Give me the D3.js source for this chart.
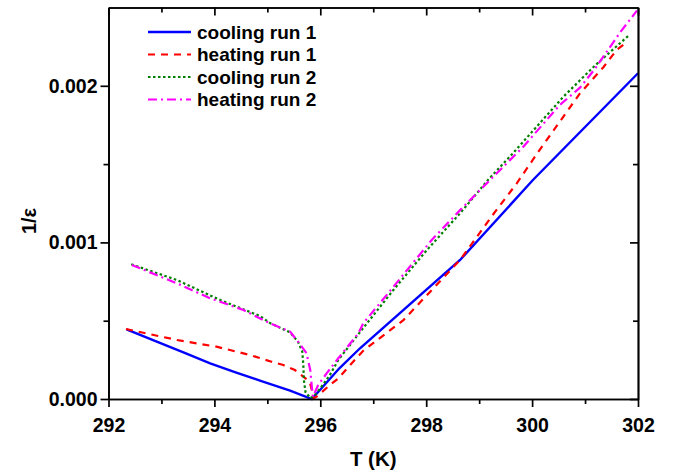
<!DOCTYPE html>
<html>
<head>
<meta charset="utf-8">
<script src="https://cdn.jsdelivr.net/npm/d3@7"></script>
<style>
  body { margin: 0; background: #fff; }
  svg { font-family: "Liberation Sans", Arial, sans-serif; }
</style>
</head>
<body>
<svg id="chart" width="677" height="474"></svg>
<script>
// [T (K), 1/eps]
const cooling1 = [
  [292.34, 0.000445], [292.97, 0.000358], [293.45, 0.000293], [293.92, 0.000228],
  [294.40, 0.000170], [294.86, 0.000118], [295.43, 0.000053], [295.84, 0.0],
  [296.36, 0.000196], [296.75, 0.000324], [298.64, 0.000888], [300.02, 0.0014],
  [302.0, 0.00208]
];
const heating1 = [
  [292.33, 0.000447], [293.29, 0.000377], [294.04, 0.000334], [294.67, 0.000281],
  [295.08, 0.000238], [295.30, 0.000217], [295.52, 0.000185], [295.80, 0.00011],
  [295.84, 0.000057], [295.87, 0.000004], [295.93, 0.000015], [296.18, 0.000089],
  [296.34, 0.000132], [296.62, 0.000238], [296.81, 0.000308], [297.57, 0.000504],
  [298.64, 0.000888], [299.28, 0.001186], [299.71, 0.001377], [300.12, 0.00158],
  [300.90, 0.00195], [301.35, 0.00212], [301.60, 0.00223], [301.79, 0.00228]
];
const cooling2 = [
  [292.43, 0.00086], [293.29, 0.00076], [294.11, 0.000632], [294.86, 0.00053],
  [295.05, 0.000485], [295.43, 0.000425], [295.58, 0.000365], [295.66, 0.000302],
  [295.68, 0.000217], [295.69, 0.000121], [295.72, 0.000045], [295.81, 0.000006],
  [295.88, 0.000019], [296.0, 0.000068], [296.18, 0.000153], [296.34, 0.000249],
  [296.78, 0.00044], [297.38, 0.000696], [298.01, 0.00095], [298.64, 0.001186],
  [299.17, 0.0014], [299.64, 0.00157], [300.59, 0.00193], [301.19, 0.00213],
  [301.82, 0.00232]
];
const heating2 = [
  [292.44, 0.000856], [293.29, 0.000739], [293.92, 0.000643], [294.55, 0.000568],
  [295.05, 0.000483], [295.43, 0.00043], [295.58, 0.000366], [295.74, 0.000292],
  [295.81, 0.000185], [295.84, 0.000079], [295.86, 0.000015], [295.96, 0.000089],
  [296.12, 0.000164], [296.34, 0.00026], [296.72, 0.00042], [296.81, 0.000483],
  [297.38, 0.000716], [298.10, 0.001014], [298.64, 0.001206], [299.27, 0.00142],
  [299.83, 0.00161], [300.53, 0.00188], [300.91, 0.00199], [301.19, 0.00211],
  [301.66, 0.00234], [301.98, 0.00248]
];

const seriesNames = ["cooling run 1", "heating run 1", "cooling run 2", "heating run 2"];
const seriesColors = ["#0000ff", "#ff0000", "#008000", "#ff00ff"];
const seriesDash = [null, "7,6", "2.5,2.5", "9,4,2,4"];
const seriesData = [cooling1, heating1, cooling2, heating2];

const xMajor = [292, 294, 296, 298, 300, 302];
const xMinor = [293, 295, 297, 299, 301];
const yMajor = [0, 0.001, 0.002];
const yMinor = [0.0005, 0.0015];

const svg = d3.select("#chart");
const m = { left: 108.5, right: 638, top: 7.5, bottom: 399 };

const x = d3.scaleLinear().domain([292, 302]).range([m.left, m.right]);
const y = d3.scaleLinear().domain([0, 0.0025]).range([m.bottom, m.top]);

// curves
const line = d3.line()
  .x(d => x(d[0]))
  .y(d => y(d[1]));

seriesData.forEach((s, i) => {
  svg.append("path")
    .datum(s)
    .attr("d", line)
    .attr("fill", "none")
    .attr("stroke", seriesColors[i])
    .attr("stroke-width", i == 0 ? 2.4 : 2.2)
    .attr("stroke-dasharray", seriesDash[i]);
});

// axes
const styleAxis = function (g) {
  g.select(".domain").attr("stroke", "#000").attr("stroke-width", 1.7);
  g.selectAll(".tick line").attr("stroke", "#000").attr("stroke-width", 1.7);
  g.selectAll("text")
    .attr("fill", "#000")
    .style("font-size", "19.5px")
    .style("font-weight", "bold");
};

svg.append("g")
  .attr("transform", `translate(0, ${m.bottom})`)
  .call(d3.axisBottom(x).tickValues(xMajor).tickSize(8).tickSizeOuter(0).tickPadding(11).tickFormat(d3.format("d")))
  .call(styleAxis);
svg.append("g")
  .attr("transform", `translate(0, ${m.bottom})`)
  .call(d3.axisBottom(x).tickValues(xMinor).tickSize(5).tickSizeOuter(0).tickFormat(""))
  .call(styleAxis);

svg.append("g")
  .attr("transform", `translate(${m.left}, 0)`)
  .call(d3.axisLeft(y).tickValues(yMajor).tickSize(8).tickSizeOuter(0).tickPadding(3).tickFormat(d3.format(".3f")))
  .call(styleAxis);
svg.append("g")
  .attr("transform", `translate(${m.left}, 0)`)
  .call(d3.axisLeft(y).tickValues(yMinor).tickSize(5).tickSizeOuter(0).tickFormat(""))
  .call(styleAxis);

// mirror axes, ticks inward
svg.append("g")
  .attr("transform", `translate(0, ${m.top})`)
  .call(d3.axisTop(x).tickValues(xMajor).tickSize(-8).tickSizeOuter(0).tickFormat(""))
  .call(styleAxis);
svg.append("g")
  .attr("transform", `translate(0, ${m.top})`)
  .call(d3.axisTop(x).tickValues(xMinor).tickSize(-5).tickSizeOuter(0).tickFormat(""))
  .call(styleAxis);
svg.append("g")
  .attr("transform", `translate(${m.right}, 0)`)
  .call(d3.axisRight(y).tickValues(yMajor).tickSize(-8).tickSizeOuter(0).tickFormat(""))
  .call(styleAxis);
svg.append("g")
  .attr("transform", `translate(${m.right}, 0)`)
  .call(d3.axisRight(y).tickValues(yMinor).tickSize(-5).tickSizeOuter(0).tickFormat(""))
  .call(styleAxis);

// axis titles
svg.append("text")
  .attr("x", (m.left + m.right) / 2)
  .attr("y", 466)
  .attr("text-anchor", "middle")
  .style("font-size", "20.5px")
  .style("font-weight", "bold")
  .text("T (K)");

svg.append("text")
  .attr("transform", "translate(36, 221) rotate(-90)")
  .attr("text-anchor", "middle")
  .style("font-size", "20px")
  .style("font-weight", "bold")
  .text("1/ε");

// legend
const legend = svg.append("g");
seriesNames.forEach((name, i) => {
  const ly = 32 + i * 22.5;
  legend.append("line")
    .attr("x1", 148).attr("x2", 191)
    .attr("y1", ly).attr("y2", ly)
    .attr("stroke", seriesColors[i])
    .attr("stroke-width", i == 0 ? 2.4 : 2.2)
    .attr("stroke-dasharray", seriesDash[i]);
  legend.append("text")
    .attr("x", 197)
    .attr("y", ly + 6.5)
    .style("font-size", "19px")
    .style("font-weight", "bold")
    .text(name);
});
</script>
</body>
</html>
